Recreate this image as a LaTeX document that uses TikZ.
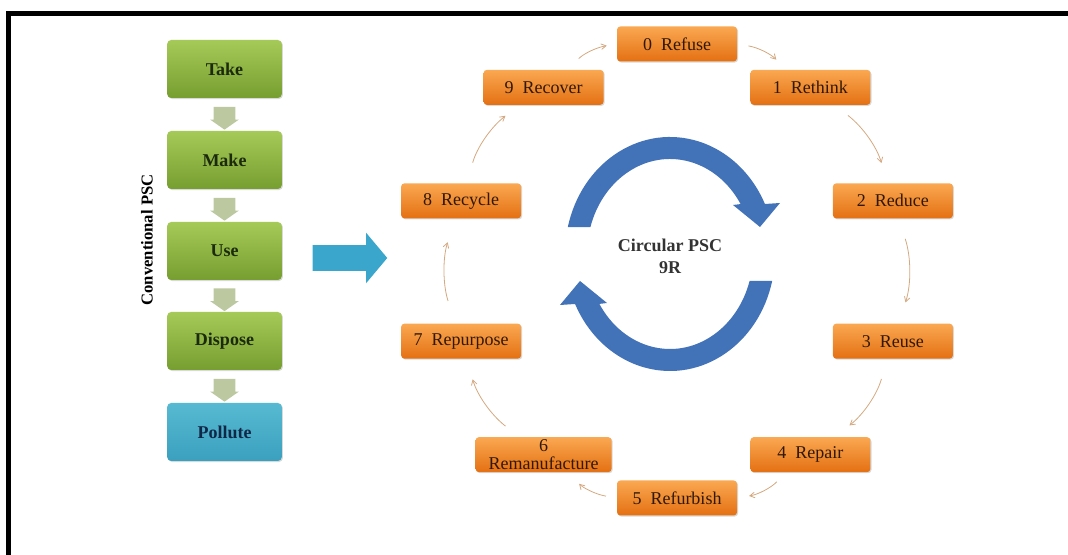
\documentclass[tikz,border=0pt]{standalone}
\usepackage{fontspec}
\setmainfont{Liberation Serif}
\usepackage{tikz}
\usetikzlibrary{shadows}
\usetikzlibrary{arrows,shapes}
\usetikzlibrary{shapes.arrows}
\usetikzlibrary{calc}
\definecolor{greentop}{RGB}{166,202,88}
\definecolor{greenbot}{RGB}{118,158,48}
\definecolor{greentext}{RGB}{28,42,12}
\definecolor{tealtop}{RGB}{88,186,210}
\definecolor{tealbot}{RGB}{58,160,190}
\definecolor{tealtext}{RGB}{16,40,72}
\definecolor{orangetop}{RGB}{250,168,82}
\definecolor{orangebot}{RGB}{228,112,18}
\definecolor{orangetext}{RGB}{48,24,6}
\definecolor{flowcol}{RGB}{212,168,128}
\definecolor{cyclecol}{RGB}{66,114,184}
\definecolor{shiftcol}{RGB}{59,166,204}
\definecolor{stepcol}{RGB}{188,200,160}
\tikzstyle{stage}=[rectangle,rounded corners=3pt,minimum width=86pt,minimum height=43.5pt,top color=greentop,bottom color=greenbot,text=greentext,font=\fontsize{13.5}{15}\selectfont\bfseries,drop shadow={shadow xshift=0.8pt,shadow yshift=-0.8pt,opacity=0.3}]
\tikzstyle{rstage}=[rectangle,rounded corners=2.5pt,minimum height=26.25pt,inner sep=0pt,align=center,top color=orangetop,bottom color=orangebot,text=orangetext,font=\fontsize{13.5}{13}\selectfont,drop shadow={shadow xshift=0.8pt,shadow yshift=-0.8pt,opacity=0.3}]
\tikzstyle{downarrow}=[single arrow,rotate=-90,fill=stepcol,inner xsep=0pt,inner ysep=8pt,single arrow head extend=2.5pt,single arrow tip angle=110,minimum height=17pt]
\tikzstyle{edge} = [draw,->,>=angle 60,flowcol,line width=0.6pt]

\begin{document}
\begin{tikzpicture}[x=0.75pt,y=0.75pt]

    \useasboundingbox (0,0) rectangle (1068,555);
    \draw[line width=3.75pt,miter limit=10] (8.5,-10) -- (8.5,541) -- (1080,541);

    \foreach \y/\name/\txt in {486/take/Take, 395/make/Make, 304/use/Use, 214/dispose/Dispose}
        \node[stage] (\name) at (224.5,\y) {\txt};
    \node[stage, top color=tealtop, bottom color=tealbot, text=tealtext] (pollute) at (224.5,123) {Pollute};

    \foreach \source/\dest in {take/make, make/use, use/dispose, dispose/pollute}
        \path (\source) -- node[downarrow] {} (\dest);

    \node[rotate=90, font=\fontsize{12.5}{14}\selectfont\bfseries] (convlabel) at (147,315) {Conventional PSC};

    \node[single arrow, fill=shiftcol, inner xsep=0pt, inner ysep=9.5pt, single arrow head extend=9.25pt,
          single arrow tip angle=100, minimum height=56pt] (pscarrow) at (344.5,297) {};

    % the two blue arrows of the cycle
    \foreach \r in {0,180}
        \fill[cyclecol, rotate around={\r:(670,301)}] (670,301) ++(166.7:105 and 117)
            arc[start angle=166.7, end angle=25.3, x radius=105, y radius=117]
            -- (780,352) -- (760,328) -- (733,350) -- ($(670,301)+(31.7:83 and 95)$)
            arc[start angle=31.7, end angle=163.5, x radius=83, y radius=95] -- cycle;

    \node[align=center, font=\fontsize{13.5}{16.5}\selectfont\bfseries, text=black!80] (circlabel) at (670,299) {Circular PSC\\9R};

    \coordinate (hub) at (677,284);
    \foreach \i/\name/\bw/\txt in {0/refuse/90/{0\enspace Refuse}, 1/rethink/90/{1\enspace Rethink},
            2/reduce/90/{2\enspace Reduce}, 3/reuse/90/{3\enspace Reuse}, 4/repair/90/{4\enspace Repair},
            5/refurbish/90/{5\enspace Refurbish}, 6/remanufacture/102/{6\\Remanufacture},
            7/repurpose/90/{7\enspace Repurpose}, 8/recycle/90/{8\enspace Recycle}, 9/recover/90/{9\enspace Recover}}
        \node[rstage, minimum width=\bw pt] (\name) at ($(hub)+(90-36*\i:227)$) {\txt};

    \foreach \source/\dest/\sa/\sb in {refuse/rethink/8.5/10.4, rethink/reduce/12.5/15.6, reduce/reuse/15.9/16.5,
            reuse/repair/15.6/13.9, repair/refurbish/9.8/9, refurbish/remanufacture/8.2/11.9,
            remanufacture/repurpose/13/15.9, repurpose/recycle/17.7/18.6, recycle/recover/15.9/13, recover/refuse/11.5/7.6}
        \path[edge, shorten <=\sa pt, shorten >=\sb pt] (\source) to[bend left=18] (\dest);

\end{tikzpicture}
\end{document}
